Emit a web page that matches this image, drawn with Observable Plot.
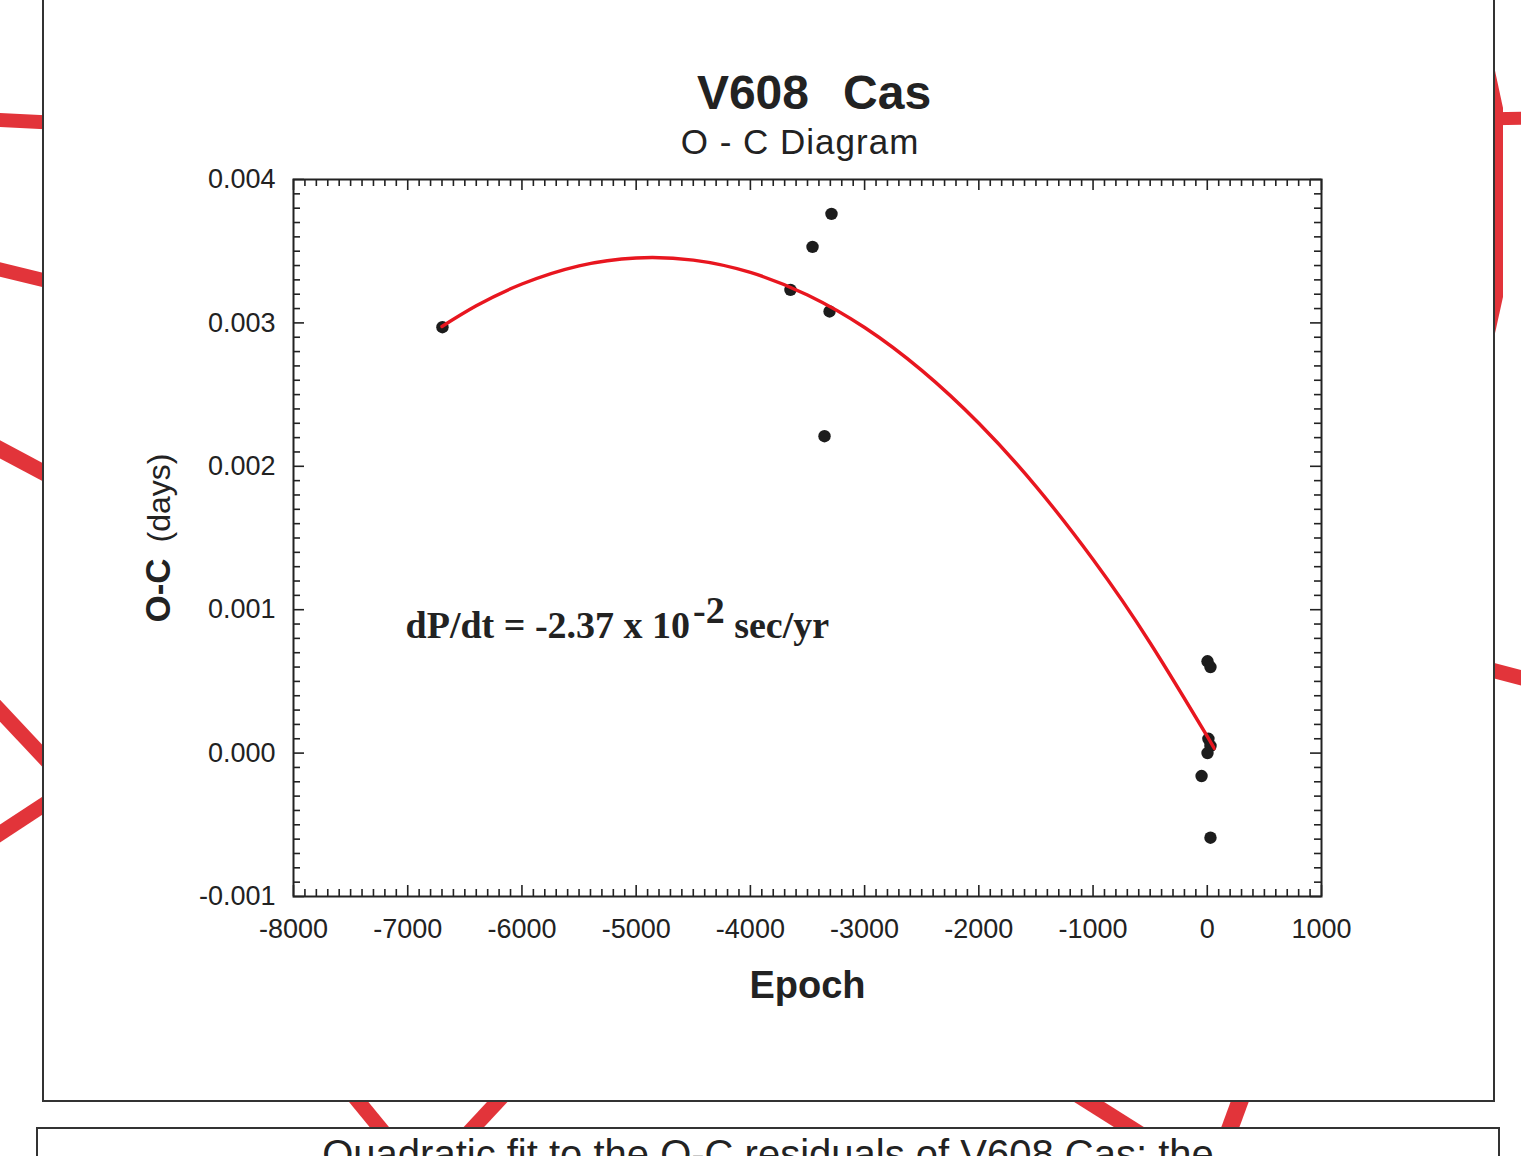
<!DOCTYPE html>
<html>
<head>
<meta charset="utf-8">
<script src="https://cdn.jsdelivr.net/npm/d3@7"></script>
<script src="https://cdn.jsdelivr.net/npm/@observablehq/plot@0.6"></script>
<style>
html, body { margin: 0; padding: 0; }
body { width: 1521px; height: 1156px; overflow: hidden; position: relative; background: #fff; font-family: "Liberation Sans", Arial, sans-serif; color: #222; }
#deco { position: absolute; left: 0; top: 0; z-index: 0; }
#panel { position: absolute; left: 42px; top: -3px; width: 1453px; height: 1105px; box-sizing: border-box; border: 2px solid #333; background: #fff; z-index: 1; }
#caption { position: absolute; left: 36px; top: 1127px; width: 1464px; height: 80px; box-sizing: border-box; border: 2px solid #333; background: #fff; z-index: 1; text-align: center; font-size: 40px; line-height: 40px; padding-top: 5px; white-space: nowrap; color: #222; }
#title { position: absolute; left: 0; top: 69px; width: 1628px; text-align: center; font-weight: bold; font-size: 48px; line-height: 48px; white-space: pre; word-spacing: -2px; z-index: 3; color: #222; }
#subtitle { position: absolute; left: 0; top: 124px; width: 1600px; text-align: center; font-size: 35px; line-height: 35px; letter-spacing: 1px; white-space: pre; z-index: 3; color: #222; }
#chart { position: absolute; left: 0; top: 160px; width: 1521px; z-index: 2; }
</style>
</head>
<body>
<svg id="deco" width="1521" height="1156" xmlns="http://www.w3.org/2000/svg">
  <g stroke="#e2343a" fill="none" stroke-linecap="butt">
    <line x1="-10" y1="119.5" x2="80" y2="124" stroke-width="14"/>
    <line x1="-10" y1="267" x2="80" y2="289" stroke-width="14"/>
    <line x1="-10" y1="444" x2="80" y2="492" stroke-width="16"/>
    <line x1="-10" y1="700" x2="80" y2="796" stroke-width="15"/>
    <line x1="-10" y1="840" x2="80" y2="781" stroke-width="15"/>
    <line x1="1480" y1="119" x2="1530" y2="118" stroke-width="13"/>
    <line x1="1480" y1="667" x2="1530" y2="680" stroke-width="15"/>
    <line x1="330" y1="1067" x2="408" y2="1162" stroke-width="15"/>
    <line x1="526" y1="1071" x2="445" y2="1158" stroke-width="15"/>
    <line x1="1040" y1="1071" x2="1178" y2="1158" stroke-width="16"/>
    <line x1="1251" y1="1071" x2="1219" y2="1158" stroke-width="17"/>
  </g>
  <polygon points="1470,38 1488,38 1503,108 1503,297 1488,365 1470,365" fill="#e2343a"/>
</svg>
<div id="panel"></div>
<div id="title">V608   Cas</div>
<div id="subtitle">O - C Diagram</div>
<div id="chart"></div>
<div id="caption">Quadratic fit to the O-C residuals of V608 Cas; the</div>
<script>
// ---- data ----
const xTicks = [-8000, -7000, -6000, -5000, -4000, -3000, -2000, -1000, 0, 1000];
const yTicks = [-0.001, 0.000, 0.001, 0.002, 0.003, 0.004];

const epoch = [-6696, -3649, -3456, -3290, -3307, -3351, 2, 28, 10, 28, 2, -50, 28];
const oc    = [0.00297, 0.00323, 0.00353, 0.00376, 0.00308, 0.00221, 0.00064, 0.00060, 0.00010, 0.00005, 0.00000, -0.00016, -0.00059];

const fitEpoch = [-6700, -6400, -6000, -5500, -5000, -4500, -4000, -3500, -3000, -2500, -2000, -1500, -1000, -500, 0, 30];
const fitOC    = [0.002975, 0.003119, 0.003271, 0.003398, 0.003453, 0.003438, 0.003352, 0.003195, 0.002968, 0.002669, 0.002300, 0.001860, 0.001350, 0.000768, 0.000116, 0.000075];

const annotEpoch = [-7019];
const annotOC = [0.00080];
const annotBase = ["dP/dt = -2.37 x 10"];
const annotExp = ["-2"];
const annotUnit = [" sec/yr"];

const xLabel = ["Epoch"];
const yLabelMain = ["O-C"];
const yLabelUnit = ["(days)"];

// ---- derived tables ----
const points = epoch.map((e, i) => ({epoch: e, oc: oc[i]}));
const fit = fitEpoch.map((e, i) => ({epoch: e, oc: fitOC[i]}));
const annotation = annotEpoch.map((e, i) => ({epoch: e, oc: annotOC[i], text: annotBase[i]}));
const xMinor = d3.range(-80, 11).filter(i => i % 10 !== 0).map(i => i * 100);
const yMinor = d3.range(-10, 41).filter(i => i % 10 !== 0).map(i => i / 10000);

const W = 1521, H = 900;
const mL = 293, mR = 200, mT = 19, mB = 164;
const fw = W - mL - mR, fh = H - mT - mB;
const ink = "#222";
const fmtY = d => d3.format(".3f")(d).replace("\u2212", "-");

const tickStyle = {stroke: ink, strokeWidth: 1.6};

const plot = Plot.plot({
  width: W, height: H,
  marginLeft: mL, marginRight: mR, marginTop: mT, marginBottom: mB,
  x: {domain: [-8000, 1000]},
  y: {domain: [-0.001, 0.004]},
  style: {background: "transparent", fontFamily: "'Liberation Sans', Arial, sans-serif", fontSize: "27px", color: ink, overflow: "visible"},
  marks: [
    // inward minor ticks
    Plot.tickX(xMinor, {x: d => d, insetTop: fh - 7, ...tickStyle}),
    Plot.tickX(xMinor, {x: d => d, insetBottom: fh - 7, ...tickStyle}),
    Plot.tickY(yMinor, {y: d => d, insetRight: fw - 7, ...tickStyle}),
    Plot.tickY(yMinor, {y: d => d, insetLeft: fw - 7, ...tickStyle}),
    // inward major ticks
    Plot.tickX(xTicks, {x: d => d, insetTop: fh - 11, ...tickStyle}),
    Plot.tickX(xTicks, {x: d => d, insetBottom: fh - 11, ...tickStyle}),
    Plot.tickY(yTicks, {y: d => d, insetRight: fw - 11, ...tickStyle}),
    Plot.tickY(yTicks, {y: d => d, insetLeft: fw - 11, ...tickStyle}),
    Plot.frame({stroke: ink, strokeWidth: 2}),
    Plot.axisX(xTicks, {anchor: "bottom", tickSize: 0, tickPadding: 22, tickFormat: d => String(d), label: null, fontSize: 27}),
    Plot.axisY(yTicks, {anchor: "left", tickSize: 0, tickPadding: 18, tickFormat: fmtY, label: null, fontSize: 27}),
    Plot.dot(points, {x: "epoch", y: "oc", r: 6.2, fill: "#1c1c1c"}),
    Plot.line(fit, {x: "epoch", y: "oc", stroke: "#e8161f", strokeWidth: 3.4, curve: "natural"}),
    Plot.text(annotation, {x: "epoch", y: "oc", text: "text", textAnchor: "start", lineAnchor: "bottom",
      fontFamily: "'Liberation Serif', 'Times New Roman', serif", fontWeight: "bold", fontSize: 38, fill: ink, ariaDescription: "annotation"}),
    Plot.text(xLabel, {text: d => d, frameAnchor: "bottom", lineAnchor: "bottom", dy: 101, fontWeight: "bold", fontSize: 38, fill: ink, ariaDescription: "xlabel"}),
    Plot.text(yLabelMain, {text: d => d, frameAnchor: "left", dx: -124, rotate: -90, textAnchor: "middle", lineAnchor: "bottom", fontSize: 34, fill: ink, ariaDescription: "ylabel"})
  ]
});

document.getElementById("chart").appendChild(plot);

const NS = "http://www.w3.org/2000/svg";
function findText(desc) {
  const g = plot.querySelector(`g[aria-description="${desc}"]`);
  if (g) return g.querySelector("text");
  return Array.from(plot.querySelectorAll("text")).find(t => t.textContent === ({annotation: annotBase[0], ylabel: yLabelMain[0]})[desc]);
}
// superscript in the annotation
const ann = findText("annotation");
if (ann) {
  ann.textContent = annotBase[0];
  const s1 = document.createElementNS(NS, "tspan");
  s1.setAttribute("dy", "-15"); s1.setAttribute("dx", "3");
  s1.textContent = annotExp[0];
  const s2 = document.createElementNS(NS, "tspan");
  s2.setAttribute("dy", "15");
  s2.textContent = annotUnit[0];
  ann.appendChild(s1); ann.appendChild(s2);
}
// mixed-weight y label
const yl = findText("ylabel");
if (yl) {
  yl.textContent = "";
  const t1 = document.createElementNS(NS, "tspan");
  t1.setAttribute("font-weight", "bold"); t1.setAttribute("font-size", "35");
  t1.textContent = yLabelMain[0];
  const t2 = document.createElementNS(NS, "tspan");
  t2.setAttribute("font-weight", "normal"); t2.setAttribute("font-size", "32"); t2.setAttribute("dx", "16");
  t2.textContent = yLabelUnit[0];
  yl.appendChild(t1); yl.appendChild(t2);
}
</script>
</body>
</html>
